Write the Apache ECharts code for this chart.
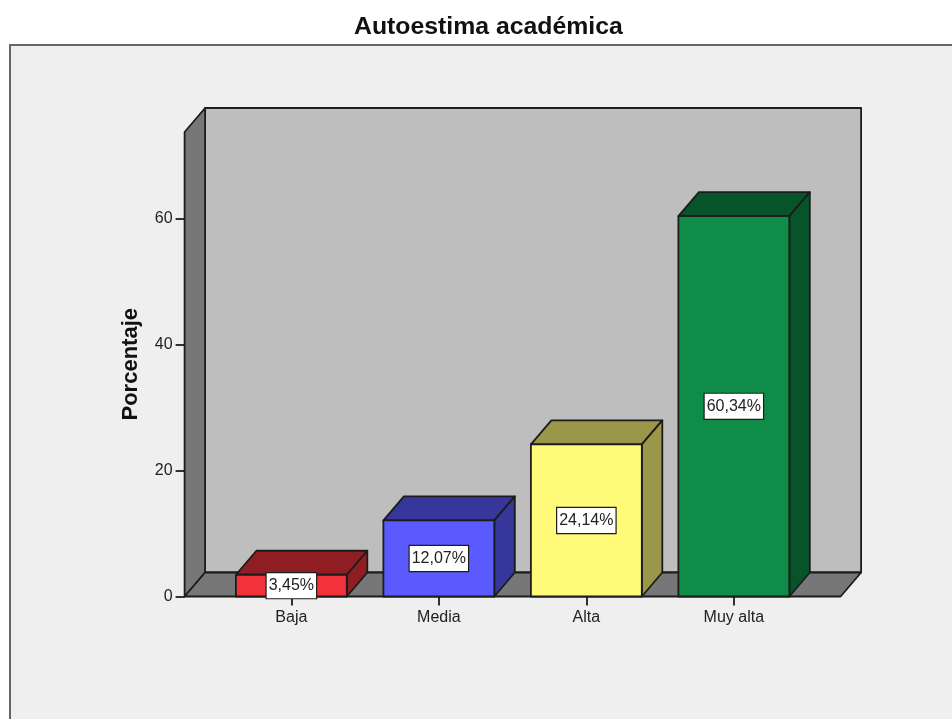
<!DOCTYPE html>
<html>
<head>
<meta charset="utf-8">
<style>html,body{margin:0;padding:0;background:#fff}#c{width:952px;height:719px}</style>
<script src="https://cdn.jsdelivr.net/npm/echarts@6/dist/echarts.min.js"></script>
</head>
<body>
<div id="c"></div>
<script>
const chartTitle = 'Autoestima académica';
const axisName = 'Porcentaje';
const categories = ['Baja', 'Media', 'Alta', 'Muy alta'];
const percentages = [3.45, 12.07, 24.14, 60.34];
const yTicks = [0, 20, 40, 60];
const frontColors = ['#F2313A', '#5A5AFF', '#FFFB78', '#0F8C47'];
const topColors = ['#8F1D21', '#36369B', '#9A974A', '#07542B'];
const sideColors = ['#8F1D21', '#36369B', '#9A974A', '#07542B'];

const Y_MAX = 73.7, DX = 20.5, DY = 24, PAD = 33, BAR_RATIO = 0.752;
const LINE = '#1c1c1c', FONT = 'Liberation Sans, Arial, sans-serif';

const poly = (points, fill, lw) => ({
  type: 'polygon',
  shape: { points },
  style: { fill, stroke: LINE, lineWidth: lw || 1.8, lineJoin: 'round' }
});

function renderBox(params, api) {
  const band = api.size([1, 0])[0];
  const p0 = api.coord([0, 0]);
  const p3 = api.coord([categories.length - 1, 0]);
  const top = api.coord([0, Y_MAX])[1];
  const l = p0[0] - band / 2 - PAD, r = p3[0] + band / 2 + PAD, b = p0[1];
  return {
    type: 'group',
    children: [
      poly([[l + DX, top - DY], [r + DX, top - DY], [r + DX, b - DY], [l + DX, b - DY]], '#BEBEBE'),
      poly([[l, top], [l + DX, top - DY], [l + DX, b - DY], [l, b]], '#777777'),
      poly([[l, b], [l + DX, b - DY], [r + DX, b - DY], [r, b]], '#777777')
    ]
  };
}

function renderBar(params, api) {
  const i = api.value(0), v = api.value(1);
  const band = api.size([1, 0])[0];
  const w = band * BAR_RATIO;
  const base = api.coord([i, 0]);
  const tip = api.coord([i, v]);
  const l = base[0] - w / 2, r = base[0] + w / 2, b = base[1], t = tip[1];
  const c = params.dataIndex;
  const mid = api.coord([i, v / 2]);
  return {
    type: 'group',
    children: [
      poly([[l, t], [l + DX, t - DY], [r + DX, t - DY], [r, t]], topColors[c]),
      poly([[r, t], [r + DX, t - DY], [r + DX, b - DY], [r, b]], sideColors[c]),
      poly([[l, t], [r, t], [r, b], [l, b]], frontColors[c]),
      {
        type: 'text',
        z2: 10,
        style: {
          x: mid[0], y: mid[1],
          text: v.toFixed(2).replace('.', ',') + '%',
          align: 'center', verticalAlign: 'middle',
          fill: '#222', font: '16px ' + FONT,
          backgroundColor: '#fff', borderColor: LINE, borderWidth: 1.2,
          padding: [5, 2, 4, 2]
        }
      }
    ]
  };
}

const chart = echarts.init(document.getElementById('c'), null, { renderer: 'canvas' });
chart.setOption({
  animation: false,
  backgroundColor: '#ffffff',
  title: {
    text: chartTitle, left: 354, top: 15,
    padding: 0,
    textStyle: { fontFamily: FONT, fontSize: 24.8, fontWeight: 'bold', color: '#111' }
  },
  graphic: [{
    type: 'rect', z: -100, silent: true,
    shape: { x: 10, y: 45, width: 1000, height: 1000 },
    style: { fill: '#EFEFEF', stroke: '#666', lineWidth: 2 }
  }],
  grid: { left: 217.6, right: 144.4, top: 132, bottom: 122.5 },
  xAxis: {
    type: 'category',
    data: categories,
    axisLine: { show: false },
    axisTick: { show: true, alignWithLabel: true, length: 9, lineStyle: { color: LINE, width: 1.8 } },
    axisLabel: { color: '#222', fontFamily: FONT, fontSize: 16, margin: 13 }
  },
  yAxis: {
    type: 'value', min: 0, max: Y_MAX, interval: 20, offset: PAD,
    name: axisName, nameLocation: 'middle', nameGap: 43,
    nameTextStyle: { fontFamily: FONT, fontSize: 22, fontWeight: 'bold', color: '#111' },
    splitLine: { show: false },
    axisLine: { show: false },
    axisTick: { show: true, length: 9, customValues: yTicks, lineStyle: { color: LINE, width: 1.8 } },
    axisLabel: { color: '#222', fontFamily: FONT, fontSize: 16, margin: 12, customValues: yTicks }
  },
  series: [
    { type: 'custom', z: 1, silent: true, clip: false, renderItem: renderBox, data: [[0, 0]], encode: { x: 0, y: 1 } },
    { type: 'custom', z: 2, silent: true, clip: false, renderItem: renderBar,
      data: percentages.map((v, i) => [i, v]), encode: { x: 0, y: 1 } }
  ]
});
</script>
</body>
</html>
